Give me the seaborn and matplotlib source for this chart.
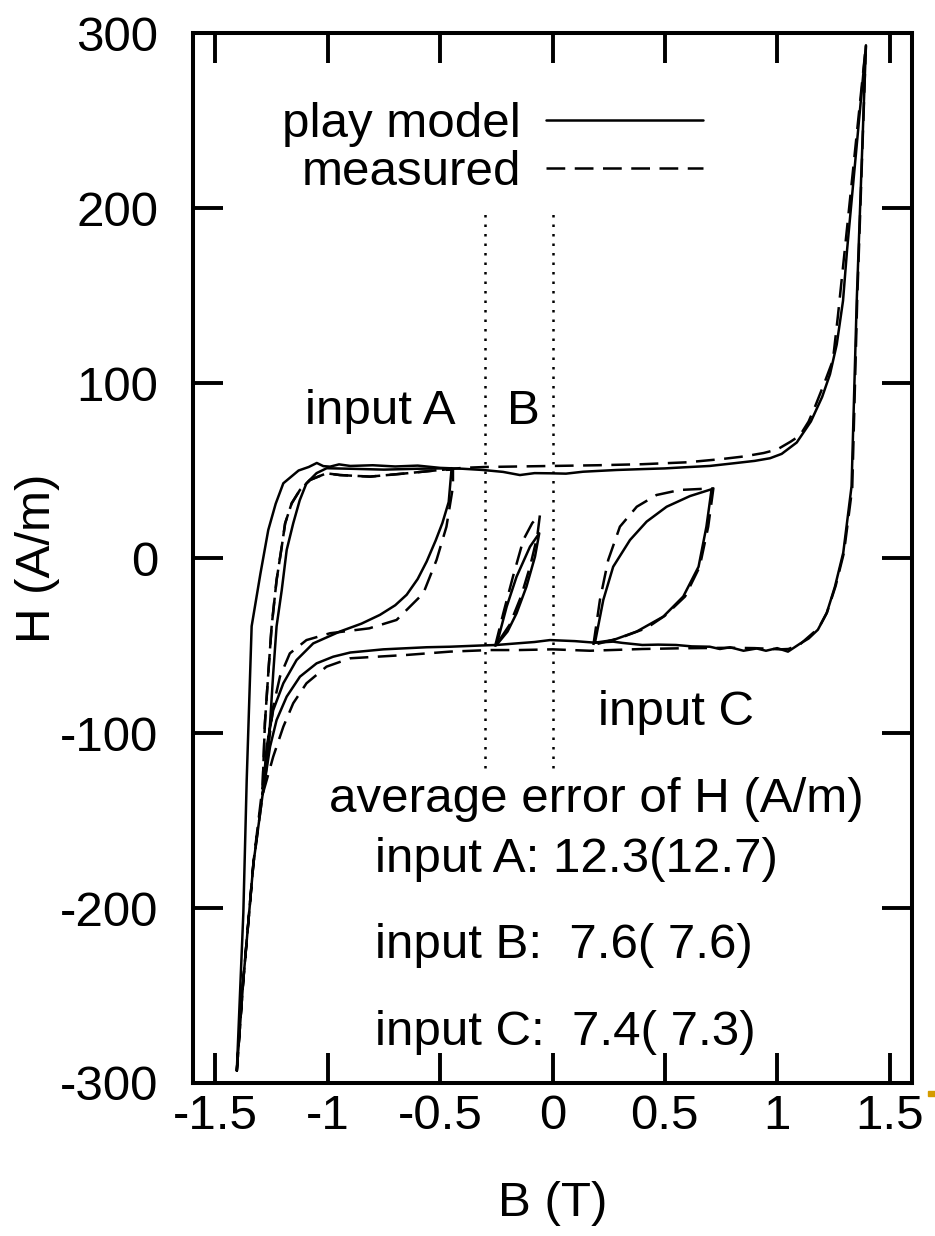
import matplotlib
matplotlib.use("Agg")
import matplotlib.pyplot as plt
import seaborn as sns

# ---------------- data (B in T, H in A/m) ----------------
model_major_B = [-1.405, -1.376, -1.361, -1.339, -1.300, -1.265, -1.232, -1.198, -1.13, -1.085, -1.049,
                 -1.02, -0.99, -0.95, -0.90, -0.80, -0.70, -0.60, -0.50, -0.40, -0.31, -0.22, -0.145,
                 -0.08, -0.011, 0.06, 0.136, 0.21, 0.286, 0.40, 0.50, 0.582, 0.70, 0.805, 0.90, 0.968,
                 1.02, 1.087, 1.15, 1.20, 1.235, 1.265, 1.293, 1.311, 1.395,
                 1.354, 1.331, 1.294, 1.257, 1.22, 1.181, 1.14, 1.101, 1.048, 1.0, 0.95, 0.909, 0.85,
                 0.79, 0.745, 0.70, 0.62, 0.55, 0.47, 0.40, 0.31, 0.27, 0.189, 0.10, -0.011, -0.08,
                 -0.16, -0.249, -0.32, -0.456, -0.56, -0.753, -0.90, -0.976, -1.05, -1.124, -1.183,
                 -1.228, -1.257, -1.275, -1.29, -1.331, -1.376, -1.405]
model_major_H = [-293, -203, -127, -39, -9, 16, 31, 42.7, 50, 52, 54.3,
                 52.5, 52.2, 53.5, 52.6, 53, 52.3, 52.8, 51.5, 51, 50.3, 49.2, 47.4,
                 48.5, 48.4, 48.2, 49.3, 49.8, 50.3, 50.8, 51.2, 51.8, 52.6, 54.1, 55.5, 57,
                 59.5, 66, 78, 92, 105, 122, 147, 176, 293,
                 147, 41, 3, -16.4, -31.6, -41, -46, -49, -53.5, -51.5, -53, -51.7, -53,
                 -51, -52, -50.7, -50.5, -49.7, -49.5, -49.7, -48.5, -47.8, -48.4, -47.5, -46.9, -48,
                 -48.8, -49.7, -50, -50.7, -51, -52.2, -54, -56.4, -60.2, -67.8, -79.2,
                 -92.6, -107.8, -123, -135, -174.5, -241, -293]

meas_major_B = [-1.405, -1.376, -1.331, -1.29, -1.28, -1.265, -1.25, -1.228, -1.205, -1.19, -1.161,
                -1.124, -1.079, -1.006, -0.946, -0.812, -0.649, -0.50, -0.40, -0.30, -0.15, 0.0, 0.2,
                0.4, 0.6, 0.75, 0.85, 0.94, 1.0, 1.06, 1.101, 1.14, 1.17, 1.21, 1.248, 1.27, 1.30, 1.395,
                1.356, 1.334, 1.297, 1.26, 1.222, 1.185, 1.14, 1.10, 1.05, 1.012, 0.9, 0.79, 0.567,
                0.40, 0.167, 0.0, -0.15, -0.278, -0.456, -0.649, -0.90, -1.006, -1.095, -1.154,
                -1.198, -1.243, -1.272, -1.29, -1.331, -1.376, -1.405]
meas_major_H = [-293, -241, -174, -130, -94.5, -66, -39, -12.6, 6.5, 19.8, 31.2,
                38.9, 44.6, 48.4, 47.4, 46.5, 48.4, 50.3, 51.5, 52, 52.3, 52.6, 53,
                53.6, 54.7, 56.5, 58, 60, 62, 66.5, 70, 78, 87, 100, 113, 138, 175, 293,
                147, 40, 3, -16, -31, -40, -45, -49.5, -52, -52.2, -51.5, -51.3, -51.6,
                -52, -53, -52.2, -52.6, -52.6, -53.5, -55.4, -57.3, -62.1, -71.6, -83,
                -96.4, -113.5, -126.9, -135, -174.5, -241, -293]

model_A_B = [-1.29, -1.272, -1.257, -1.243, -1.228, -1.205, -1.183, -1.154, -1.125, -1.095, -1.05,
             -1.005, -0.9, -0.75, -0.6, -0.449,
             -0.462, -0.49, -0.52, -0.56, -0.60, -0.649, -0.70, -0.768, -0.85, -0.946, -1.065,
             -1.139, -1.198, -1.243, -1.272, -1.29]
model_A_H = [-135, -119, -94.5, -65.9, -39, -18.3, 4.6, 19.8, 33, 42.7, 48.5,
             51.3, 51, 50.5, 51, 51.3,
             32, 20, 10, -2, -12, -21, -27, -32.5, -37.5, -42, -48.8,
             -58.3, -71.6, -86.9, -107.8, -135]

meas_A_B = [-1.29, -1.28, -1.265, -1.25, -1.228, -1.205, -1.19, -1.161, -1.124, -1.079, -1.006,
            -0.946, -0.812, -0.649, -0.50, -0.443,
            -0.443, -0.472, -0.516, -0.575, -0.694, -0.816, -0.99, -1.095, -1.169, -1.213,
            -1.243, -1.265, -1.29]
meas_A_H = [-130, -94.5, -66, -39, -12.6, 6.5, 19.8, 31.2, 38.9, 44.6, 48.4,
            47.4, 46.5, 48.4, 50.3, 50.5,
            40.8, 17.9, -1.1, -20.2, -35.4, -40.2, -43, -46.9, -54.5, -67.8,
            -85, -107.8, -130]

model_Bl_B = [-0.249, -0.204, -0.16, -0.10, -0.059, -0.078, -0.116, -0.16, -0.20, -0.249]
model_Bl_H = [-49.7, -27.8, -10.7, 6.5, 14.1, 0.7, -16.4, -31.6, -42, -49.7]
meas_Bl_B = [-0.256, -0.219, -0.176, -0.13, -0.09, -0.056, -0.068, -0.10, -0.14, -0.19, -0.256]
meas_Bl_H = [-50.7, -31.6, -10.7, 10.3, 20, 24.6, 12.2, -4.9, -22, -38, -50.7]

model_C_B = [0.189, 0.226, 0.27, 0.345, 0.419, 0.508, 0.612, 0.708, 0.685, 0.65, 0.582, 0.493,
             0.375, 0.27, 0.189]
model_C_H = [-48.4, -24, -5, 10.3, 20.8, 29.3, 35.4, 39.3, 17.9, -5, -22, -33.5, -42, -46.9, -48.4]
meas_C_B = [0.182, 0.211, 0.248, 0.30, 0.375, 0.463, 0.568, 0.716, 0.693, 0.655, 0.59, 0.50,
            0.419, 0.30, 0.182]
meas_C_H = [-49.7, -24, -1.1, 17.9, 29.3, 36, 38.9, 39.8, 17.9, -5, -22, -33, -40, -45.7, -49.7]

divider_B = [-0.3, 0.0]
divider_H = (-120, 200)

x_ticks = [-1.5, -1, -0.5, 0, 0.5, 1, 1.5]
x_tick_labels = ["-1.5", "-1", "-0.5", "0", "0.5", "1", "1.5"]
y_ticks = [-300, -200, -100, 0, 100, 200, 300]
y_tick_labels = ["-300", "-200", "-100", "0", "100", "200", "300"]

series_labels = ["play model", "measured"]
error_title = "average error of H (A/m)"
error_lines = ["input A: 12.3(12.7)", "input B:  7.6( 7.6)", "input C:  7.4( 7.3)"]

# ---------------- style ----------------
sns.set_theme(style="ticks")
plt.rcParams["font.family"] = ["Liberation Sans", "DejaVu Sans"]
plt.rcParams["axes.unicode_minus"] = False
plt.rcParams["text.color"] = "black"
plt.rcParams["axes.labelcolor"] = "black"
plt.rcParams["xtick.color"] = "black"
plt.rcParams["ytick.color"] = "black"
plt.rcParams["legend.labelcolor"] = "black"
FS = 35.5
LW = 1.8
DASH = (0, (7.5, 3.8))

fig = plt.figure(figsize=(9.35, 12.36), dpi=100)
ax = fig.add_axes([193 / 935, 1 - 1083 / 1236, 719 / 935, 1050 / 1236])

model_sets = [(model_major_B, model_major_H), (model_A_B, model_A_H),
              (model_Bl_B, model_Bl_H), (model_C_B, model_C_H)]
meas_sets = [(meas_major_B, meas_major_H), (meas_A_B, meas_A_H),
             (meas_Bl_B, meas_Bl_H), (meas_C_B, meas_C_H)]

for i, (bx, hy) in enumerate(model_sets):
    sns.lineplot(x=bx, y=hy, sort=False, estimator=None, color="black", lw=LW, ax=ax,
                 label=series_labels[0] if i == 0 else None)
for i, (bx, hy) in enumerate(meas_sets):
    sns.lineplot(x=bx, y=hy, sort=False, estimator=None, color="black", lw=LW, ax=ax,
                 linestyle=DASH, label=series_labels[1] if i == 0 else None)

ax.vlines(divider_B, divider_H[0], divider_H[1], colors="black", lw=1.8,
          linestyles=[(0, (1, 2.8))])

ax.set_xlim(-1.6, 1.6)
ax.set_ylim(-300, 300)
ax.set_xticks(x_ticks)
ax.set_xticklabels(x_tick_labels)
ax.set_yticks(y_ticks)
ax.set_yticklabels(y_tick_labels)
ax.tick_params(axis="both", direction="in", length=21.5, width=2.8, labelsize=FS,
               top=True, right=True, colors="black", labelcolor="black")
ax.tick_params(axis="x", pad=8)
ax.tick_params(axis="y", pad=25)
for s in ax.spines.values():
    s.set_linewidth(2.9)
    s.set_color("black")

ax.set_xlabel("B (T)", fontsize=FS, color="black")
ax.set_ylabel("H (A/m)", fontsize=FS, color="black")
ax.xaxis.set_label_coords(0.5, -0.093)
ax.yaxis.set_label_coords(-0.185, 0.5)

leg = ax.legend(loc="upper right", bbox_to_anchor=(0.71, 0.934), markerfirst=False,
                frameon=False, fontsize=FS, handlelength=3.2, handletextpad=0.5,
                labelspacing=0.05, borderpad=0, borderaxespad=0)
for t in leg.get_texts():
    t.set_color("black")

ax.text(-1.10, 84, "input A", fontsize=FS, ha="left", va="center", color="black")
ax.text(-0.13, 84, "B", fontsize=FS, ha="center", va="center", color="black")
ax.text(0.55, -88, "input C", fontsize=FS, ha="center", va="center", color="black")
ax.text(0.194, -138, error_title, fontsize=FS, ha="center", va="center", color="black")
for k, line in enumerate(error_lines):
    ax.text(-0.79, -172 - 49.5 * k, line, fontsize=FS, ha="left", va="center", color="black")

fig.patches.append(plt.Rectangle((928 / 935, 1 - 1096 / 1236), 7 / 935, 5 / 1236,
                                 transform=fig.transFigure, color="#d49b00", zorder=5))

fig.savefig("out.png", dpi=100)
